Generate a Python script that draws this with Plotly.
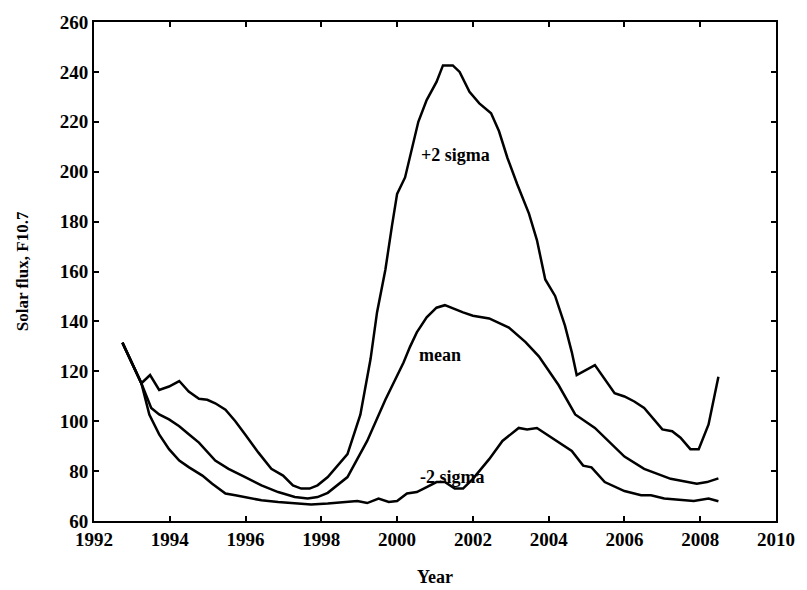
import plotly.graph_objects as go

# Solar flux (F10.7) projections: +2 sigma, mean, -2 sigma
years_plus = [1992.75, 1993.25, 1993.48, 1993.72, 1993.98, 1994.25, 1994.5, 1994.77, 1994.99,
              1995.2, 1995.47, 1995.73, 1995.99, 1996.34, 1996.68, 1996.99, 1997.25, 1997.47,
              1997.69, 1997.9, 1998.17, 1998.69, 1999.03, 1999.3, 1999.47, 1999.69, 1999.86,
              2000.0, 2000.21, 2000.34, 2000.56, 2000.78, 2001.04, 2001.21, 2001.47, 2001.65,
              2001.91, 2002.17, 2002.48, 2002.69, 2002.91, 2003.17, 2003.48, 2003.69, 2003.91,
              2004.17, 2004.43, 2004.61, 2004.74, 2005.22, 2005.74, 2006.0, 2006.26, 2006.52,
              2007.0, 2007.26, 2007.48, 2007.74, 2007.96, 2008.22, 2008.48]
flux_plus = [131.5, 115.2, 118.5, 112.5, 113.9, 116.1, 111.9, 109.0, 108.6,
             107.2, 104.6, 100.0, 94.7, 87.4, 80.9, 78.2, 74.3, 73.0,
             73.0, 74.3, 77.6, 86.8, 102.6, 125.0, 143.6, 160.7, 177.9,
             191.1, 197.7, 205.6, 220.0, 228.7, 236.0, 242.6, 242.6, 240.0,
             232.0, 227.4, 223.4, 216.2, 205.6, 195.0, 183.2, 172.6, 156.8,
             150.2, 138.3, 127.7, 118.5, 122.5, 111.2, 109.9, 107.9, 105.3,
             96.7, 96.0, 93.4, 88.8, 88.8, 98.7, 117.8]

years_mean = [1992.75, 1993.25, 1993.51, 1993.72, 1993.98, 1994.25, 1994.51, 1994.77, 1995.2,
              1995.55, 1995.99, 1996.42, 1996.86, 1997.3, 1997.64, 1997.9, 1998.17, 1998.69,
              1999.21, 1999.69, 2000.17, 2000.34, 2000.52, 2000.78, 2001.04, 2001.26, 2001.74,
              2002.0, 2002.43, 2002.95, 2003.39, 2003.74, 2004.26, 2004.7, 2005.22, 2005.57,
              2006.0, 2006.52, 2007.22, 2007.91, 2008.18, 2008.48]
flux_mean = [131.5, 115.2, 105.3, 102.7, 100.7, 98.0, 94.7, 91.4, 84.2,
             80.9, 77.6, 74.3, 71.6, 69.6, 69.0, 69.6, 71.3, 77.6,
             92.1, 108.6, 123.5, 129.8, 135.6, 141.6, 145.5, 146.5, 143.6,
             142.3, 141.2, 137.5, 131.7, 126.0, 114.5, 102.7, 97.3, 92.1,
             85.8, 80.9, 76.9, 74.9, 75.6, 77.1]

years_minus = [1992.75, 1993.25, 1993.46, 1993.72, 1993.98, 1994.25, 1994.51, 1994.86, 1995.12,
               1995.47, 1995.73, 1995.99, 1996.42, 1996.86, 1997.3, 1997.73, 1998.17, 1998.95,
               1999.21, 1999.51, 1999.78, 2000.0, 2000.26, 2000.52, 2000.78, 2001.04, 2001.26,
               2001.52, 2001.74, 2002.0, 2002.43, 2002.78, 2003.21, 2003.43, 2003.69, 2004.08,
               2004.61, 2004.91, 2005.13, 2005.48, 2006.0, 2006.44, 2006.7, 2007.05, 2007.48,
               2007.83, 2008.22, 2008.48]
flux_minus = [131.5, 115.2, 102.7, 94.7, 88.8, 84.2, 81.5, 78.2, 74.9,
              71.0, 70.3, 69.6, 68.3, 67.6, 67.0, 66.6, 67.0, 68.0,
              67.2, 69.0, 67.6, 68.0, 71.0, 71.6, 73.6, 75.6, 75.6,
              73.0, 73.0, 76.9, 84.8, 92.1, 97.3, 96.7, 97.3, 93.4,
              88.1, 82.2, 81.5, 75.6, 72.0, 70.3, 70.3, 69.0, 68.3,
              68.0, 69.0, 67.9]

series_names = ["+2 sigma", "mean", "-2 sigma"]
label_x = [2001.53, 2001.12, 2001.46]
label_y = [206.5, 126.5, 77.8]

FONT = "Liberation Serif"

fig = go.Figure()
for xs, ys, name in [(years_plus, flux_plus, series_names[0]),
                     (years_mean, flux_mean, series_names[1]),
                     (years_minus, flux_minus, series_names[2])]:
    fig.add_trace(go.Scatter(x=xs, y=ys, mode="lines", name=name,
                             line=dict(color="black", width=2.5)))

for name, lx, ly in zip(series_names, label_x, label_y):
    fig.add_annotation(x=lx, y=ly, text=name, showarrow=False,
                       font=dict(family=FONT, size=18, color="black", weight="bold"))

axis_common = dict(
    showline=True, linecolor="black", linewidth=2, mirror="ticks",
    ticks="inside", ticklen=5, tickwidth=1.5, tickcolor="black",
    showgrid=False, zeroline=False,
    tickfont=dict(family=FONT, size=19, color="black", weight="bold"),
)

fig.update_xaxes(range=[1992, 2010], dtick=2, tick0=1992, **axis_common)
fig.update_yaxes(range=[60, 260], dtick=20, tick0=60, ticklabelstandoff=0, **axis_common)

# axis titles
fig.add_annotation(xref="paper", yref="paper", x=0.5, y=-0.113, text="Year",
                   showarrow=False, yanchor="middle",
                   font=dict(family=FONT, size=18, color="black", weight="bold"))
fig.add_annotation(xref="paper", yref="paper", x=-0.1045, y=0.5, text="Solar flux, F10.7",
                   showarrow=False, textangle=-90, xanchor="center",
                   font=dict(family=FONT, size=17, color="black", weight="bold"))

fig.update_layout(
    width=807, height=590,
    margin=dict(l=94, r=24, t=16, b=69),
    paper_bgcolor="white", plot_bgcolor="white",
    showlegend=False,
)

fig.write_html("out.html")
